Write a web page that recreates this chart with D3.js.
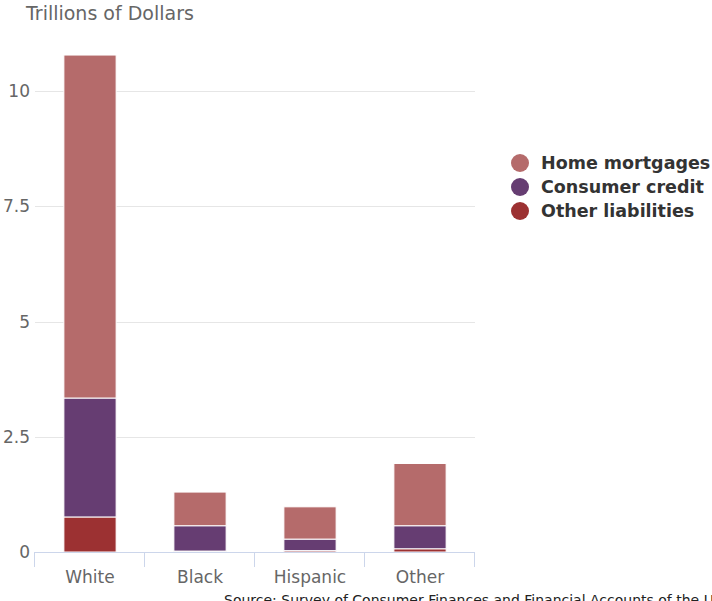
<!DOCTYPE html>
<html>
<head>
<meta charset="utf-8">
<script src="https://cdn.jsdelivr.net/npm/d3@7"></script>
<style>
  html, body { margin: 0; padding: 0; background: #fff; }
  svg { display: block; font-family: "DejaVu Sans", sans-serif; }
</style>
</head>
<body>
<script>
// data (trillions of dollars)
var categories = ["White", "Black", "Hispanic", "Other"];
var homeMortgages = [7.44, 0.73, 0.70, 1.35];
var consumerCredit = [2.58, 0.55, 0.25, 0.50];
var otherLiabilities = [0.76, 0.02, 0.03, 0.07];
var yTicks = [0, 2.5, 5, 7.5, 10];

var series = [
    {key: "mortgage", name: "Home mortgages", color: "#b56b6b", values: homeMortgages},
    {key: "consumer", name: "Consumer credit", color: "#663d72", values: consumerCredit},
    {key: "other", name: "Other liabilities", color: "#9c3132", values: otherLiabilities}
];

var rows = categories.map(function(c, i) {
    return {cat: c, mortgage: homeMortgages[i], consumer: consumerCredit[i], other: otherLiabilities[i]};
});

var width = 712, height = 601;
var plotLeft = 35, plotRight = 475, plotBottom = 552;

var svg = d3.select("body").append("svg")
    .attr("width", width)
    .attr("height", height);

var x = d3.scaleBand()
    .domain(categories)
    .range([plotLeft, plotRight]);

var y = d3.scaleLinear()
    .domain([0, 10])
    .range([plotBottom, 91]);

// gridlines
svg.append("g").selectAll("line")
    .data(yTicks.filter(function(t){ return t > 0; }))
    .enter().append("line")
    .attr("x1", plotLeft)
    .attr("x2", plotRight)
    .attr("y1", function(d){ return Math.round(y(d)) + 0.5; })
    .attr("y2", function(d){ return Math.round(y(d)) + 0.5; })
    .attr("stroke", "#e6e6e6")
    .attr("stroke-width", 1);

// y labels
svg.append("g").selectAll("text")
    .data(yTicks)
    .enter().append("text")
    .attr("x", 30)
    .attr("y", function(d){ return y(d); })
    .attr("dy", "0.36em")
    .attr("text-anchor", "end")
    .attr("fill", "#666")
    .attr("font-size", 17)
    .text(function(d){ return d; });

// bars
var stack = d3.stack().keys(["other", "consumer", "mortgage"]);
var stacked = stack(rows);
var colorOf = {};
series.forEach(function(s){ colorOf[s.key] = s.color; });

var barW = x.bandwidth() * 0.475;

svg.append("g").selectAll("g")
    .data(stacked)
    .enter().append("g")
    .attr("fill", function(d){ return colorOf[d.key]; })
    .selectAll("rect")
    .data(function(d){ return d; })
    .enter().append("rect")
    .attr("x", function(d){ return x(d.data.cat) + (x.bandwidth() - barW) / 2; })
    .attr("width", barW)
    .attr("y", function(d){ return y(d[1]); })
    .attr("height", function(d){ return Math.max(0, y(d[0]) - y(d[1])); })
    .attr("stroke", "#fff")
    .attr("stroke-width", 1);

// x axis
var xAxis = svg.append("g")
    .attr("transform", "translate(0," + plotBottom + ")");

xAxis.append("line")
    .attr("x1", plotLeft)
    .attr("x2", plotRight)
    .attr("y1", 0.5)
    .attr("y2", 0.5)
    .attr("stroke", "#ccd6eb");

var edges = categories.map(function(c){ return x(c); }).concat([plotRight]);
xAxis.selectAll("line.tick")
    .data(edges)
    .enter().append("line")
    .attr("class", "tick")
    .attr("x1", function(d){ return Math.round(d) - 0.5; })
    .attr("x2", function(d){ return Math.round(d) - 0.5; })
    .attr("y1", 0)
    .attr("y2", 15)
    .attr("stroke", "#ccd6eb");

xAxis.selectAll("text")
    .data(categories)
    .enter().append("text")
    .attr("x", function(d){ return x(d) + x.bandwidth() / 2; })
    .attr("y", 31)
    .attr("text-anchor", "middle")
    .attr("fill", "#666")
    .attr("font-size", 17)
    .text(function(d){ return d; });

// title
svg.append("text")
    .attr("x", 26)
    .attr("y", 20)
    .attr("fill", "#666")
    .attr("font-size", 19)
    .text("Trillions of Dollars");

// legend
var legend = svg.append("g").selectAll("g")
    .data(series)
    .enter().append("g")
    .attr("transform", function(d, i){ return "translate(520," + (163 + i * 24) + ")"; });

legend.append("circle")
    .attr("r", 9)
    .attr("fill", function(d){ return d.color; });

legend.append("text")
    .attr("x", 21)
    .attr("dy", "0.36em")
    .attr("fill", "#333")
    .attr("font-size", 17.5)
    .attr("font-weight", "bold")
    .text(function(d){ return d.name; });

// source (runs off the bottom/right edge, as in the original)
svg.append("text")
    .attr("x", 224)
    .attr("y", 605)
    .attr("fill", "#222")
    .attr("font-size", 14)
    .text("Source: Survey of Consumer Finances and Financial Accounts of the United States");
</script>
</body>
</html>
